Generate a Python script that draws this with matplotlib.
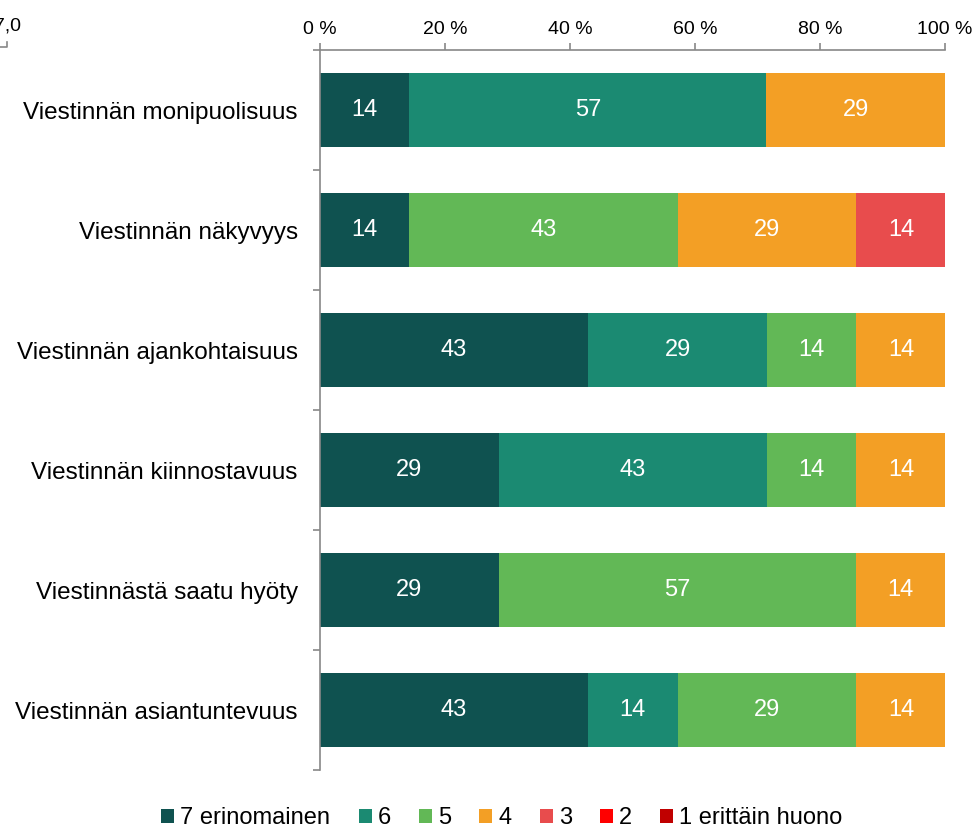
import numpy as np
import matplotlib.pyplot as plt
from matplotlib.lines import Line2D
from matplotlib.patches import Patch

plt.rcParams['font.family'] = ['Liberation Sans', 'DejaVu Sans']

# data (percent of respondents, top row first)
categories = ['Viestinnän monipuolisuus', 'Viestinnän näkyvyys', 'Viestinnän ajankohtaisuus',
              'Viestinnän kiinnostavuus', 'Viestinnästä saatu hyöty', 'Viestinnän asiantuntevuus']
series_names = ['7 erinomainen', '6', '5', '4', '3', '2', '1 erittäin huono']
s7 = [14.3, 14.3, 42.9, 28.6, 28.6, 42.9]
s6 = [57.1, 0, 28.6, 42.9, 0, 14.3]
s5 = [0, 42.9, 14.3, 14.3, 57.1, 28.6]
s4 = [28.6, 28.6, 14.3, 14.3, 14.3, 14.3]
s3 = [0, 14.3, 0, 0, 0, 0]
s2 = [0, 0, 0, 0, 0, 0]
s1 = [0, 0, 0, 0, 0, 0]
colors = ['#0f5250', '#1b8a72', '#62b856', '#f39f25', '#e84c4d', '#ff0000', '#c00000']
xtick_labels = ['0 %', '20 %', '40 %', '60 %', '80 %', '100 %']

fig = plt.figure(figsize=(9.78, 8.3), dpi=100)
ax = fig.add_axes([320/978, 1-770/830, 625/978, 720/830])

y = np.arange(len(categories))
left = np.zeros(len(categories))
for vals, name, col in zip([s7, s6, s5, s4, s3, s2, s1], series_names, colors):
    vals = np.array(vals, dtype=float)
    ax.barh(y, vals, left=left, height=0.62, color=col, label=name, edgecolor='none')
    for yi, (l, v) in enumerate(zip(left, vals)):
        if v > 0:
            ax.text(l + v/2, yi, '%.0f' % v, ha='center', va='center', color='white', fontsize=17)
    left += vals

ax.set_xlim(0, 100)
ax.set_ylim(len(categories) - 0.5, -0.5)
ax.xaxis.tick_top()
ax.set_xticks(np.arange(0, 101, 20))
ax.set_xticklabels(xtick_labels, fontsize=14)
ax.tick_params(axis='x', length=5, color='#888888', width=1.2, pad=4)

# category labels at centers, tick marks at boundaries
ax.set_yticks(y)
ax.set_yticklabels(categories, fontsize=17.5)
ax.tick_params(axis='y', which='major', length=0, pad=16)
ax.set_yticks(np.arange(-0.5, len(categories)), minor=True)
ax.tick_params(axis='y', which='minor', length=5, color='#888888', width=1.2)

for s in ['right', 'bottom']:
    ax.spines[s].set_visible(False)
for s in ['left', 'top']:
    ax.spines[s].set_color('#888888')
    ax.spines[s].set_linewidth(1.2)

# leftover secondary axis label at top left
fig.text(21/978, 1-26/830, '7,0', ha='right', va='center', fontsize=14)
fig.add_artist(Line2D([0, 7/978, 7/978], [1-47/830, 1-47/830, 1-42/830],
                      transform=fig.transFigure, color='#888888', lw=1.2))

handles = [Patch(facecolor=c, edgecolor='none') for c in colors]
fig.legend(handles, series_names, loc='center', bbox_to_anchor=(502/978, 1-818/830),
           ncol=7, frameon=False, fontsize=17, handlelength=0.55, handleheight=0.55,
           handletextpad=0.25, columnspacing=1.2)

fig.savefig('out.png', dpi=100)
